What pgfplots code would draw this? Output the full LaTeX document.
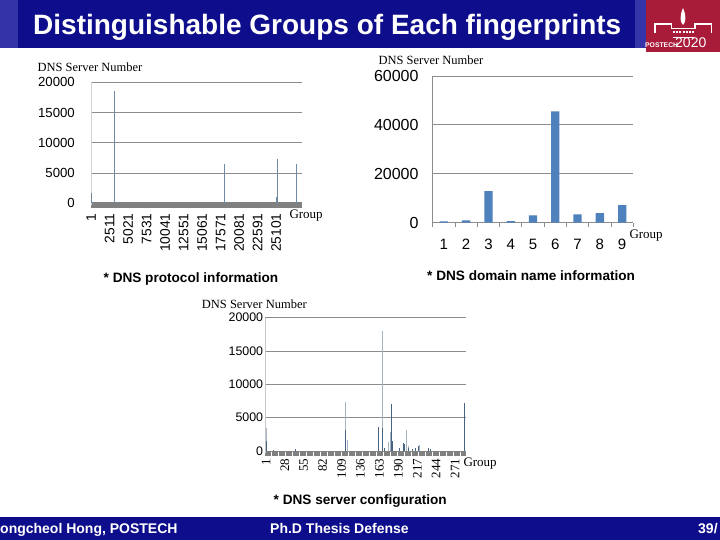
\documentclass[border=0pt]{standalone}
\usepackage{pgfplots}
\pgfplotsset{compat=1.18}
\usepackage{fontspec}
\setmainfont{Liberation Sans}
\newfontfamily\serif{Liberation Serif}
\definecolor{navy}{RGB}{14,14,140}
\definecolor{lightnavy}{RGB}{52,52,168}
\definecolor{logored}{RGB}{168,28,58}
\definecolor{barblue}{RGB}{79,129,189}
\definecolor{spike}{RGB}{112,136,160}
\definecolor{spikedark}{RGB}{70,100,130}
\definecolor{spikelight}{RGB}{165,180,195}
\definecolor{gridgray}{RGB}{140,140,140}
\definecolor{bandgray}{RGB}{128,128,128}
\newcommand\fs[1]{\fontsize{#1}{#1}\selectfont}
\pgfplotsset{
  slide/.style={
    scale only axis, anchor=south west,
    axis x line*=bottom, axis y line*=left,
    major tick length=0pt,
    ymajorgrids, grid style={gridgray, line width=0.8bp},
    scaled ticks=false,
    /pgf/number format/assume math mode=true,
    /pgf/number format/1000 sep={},
    clip=false,
  }
}
\begin{document}
\begin{tikzpicture}
\path[use as bounding box] (0,0) rectangle (720bp,540bp);
\clip (0,0) rectangle (720bp,540bp);
\fill[white] (0,0) rectangle (720bp,540bp);
% title bar
\fill[lightnavy] (0,491.7bp) rectangle (648bp,540bp);
\fill[navy] (18bp,491.7bp) rectangle (635bp,540bp);
\fill[logored] (646bp,488bp) rectangle (720bp,540bp);
\node[white, font=\bfseries\fs{28bp}, anchor=base west, inner sep=0pt] at (33bp,505bp) {Distinguishable Groups of Each fingerprints};
% logo
\fill[white] (683bp,532bp) .. controls (686.5bp,524bp) and (686bp,518bp) .. (683bp,515bp) .. controls (680bp,518bp) and (679.5bp,524bp) .. (683bp,532bp);
\draw[white, line width=1.1bp] (655bp,506.7bp) -- (655bp,516bp) -- (671.7bp,516bp) -- (671.7bp,511.7bp) -- (695bp,511.7bp) -- (695bp,516bp) -- (711.7bp,516bp) -- (711.7bp,506.7bp);
\draw[white, line width=1.1bp] (673bp,502.7bp) -- (694bp,502.7bp);
\draw[white, line width=1.1bp, dash pattern=on 2bp off 1.2bp] (673bp,508bp) -- (694bp,508bp);
\node[white, font=\bfseries\fs{6.8bp}, anchor=base west, inner sep=0pt] at (645bp,492.7bp) {POSTECH};
\node[white, font=\fs{14bp}, anchor=base west, inner sep=0pt] at (675bp,492.7bp) {2020};
% footer
\fill[navy] (0,0) rectangle (720bp,23.3bp);
\node[white, font=\bfseries\fs{14bp}, anchor=base west, inner sep=0pt] at (0bp,7bp) {ongcheol Hong, POSTECH};
\node[white, font=\bfseries\fs{14bp}, anchor=base west, inner sep=0pt] at (270bp,7bp) {Ph.D Thesis Defense};
\node[white, font=\bfseries\fs{14bp}, anchor=base west, inner sep=0pt] at (698bp,7bp) {39/};
% captions
\node[font=\bfseries\fs{13.6bp}, anchor=base west, inner sep=0pt] at (103.5bp,257.3bp) {* DNS protocol information};
\node[font=\bfseries\fs{13.6bp}, anchor=base west, inner sep=0pt] at (427bp,259bp) {* DNS domain name information};
\node[font=\bfseries\fs{13.6bp}, anchor=base west, inner sep=0pt] at (273.5bp,36bp) {* DNS server configuration};
% axis titles
\node[font=\serif\fs{12.5bp}, anchor=base west, inner sep=0pt] at (37.3bp,468.3bp) {DNS Server Number};
\node[font=\serif\fs{13bp}, anchor=base west, inner sep=0pt] at (289.3bp,321bp) {Group};
\node[font=\serif\fs{12.5bp}, anchor=base west, inner sep=0pt] at (378.3bp,475bp) {DNS Server Number};
\node[font=\serif\fs{13bp}, anchor=base west, inner sep=0pt] at (629.3bp,301bp) {Group};
\node[font=\serif\fs{12.5bp}, anchor=base west, inner sep=0pt] at (201.7bp,231.5bp) {DNS Server Number};
\node[font=\serif\fs{13bp}, anchor=base west, inner sep=0pt] at (463.3bp,73bp) {Group};

% ---------- chart 1: DNS protocol information ----------
\begin{axis}[slide,
  at={(91bp,335.3bp)}, width=210.7bp, height=122.4bp,
  xmin=0, xmax=28550, ymin=-231, ymax=20000,
  x axis line style={line width=6bp, color=bandgray},
  y axis line style={color=gray!35, line width=0.8bp},
  ytick={0,5000,10000,15000,20000},
  yticklabels={0,5000,10000,15000,20000},
  xtick={1,2511,5021,7531,10041,12551,15061,17571,20081,22591,25101},
  xticklabels={1,2511,5021,7531,10041,12551,15061,17571,20081,22591,25101},
  xticklabel style={rotate=90, anchor=east, inner sep=0pt, font=\fs{13.8bp}},
  yticklabel style={anchor=east, inner sep=0pt, font=\fs{13.2bp}},
  xticklabel shift=8.5bp, yticklabel shift=16bp,
]
\addplot[ycomb, no marks, color=spike, line width=1bp] coordinates {
  (95,1650) (3157,18560) (18062,6450) (25135,1100) (25244,7270) (27818,6450)
};
\end{axis}

% ---------- chart 2: DNS domain name information ----------
\begin{axis}[slide,
  at={(432.7bp,317.3bp)}, width=200.6bp, height=146.7bp,
  xmin=0.5, xmax=9.5, ymin=0, ymax=60000,
  axis line style={gridgray, line width=0.8bp},
  ytick={0,20000,40000,60000}, yticklabels={0,20000,40000,60000},
  xtick={1,2,3,4,5,6,7,8,9}, xticklabels={1,2,3,4,5,6,7,8,9},
  minor xtick={0.5,1.5,2.5,3.5,4.5,5.5,6.5,7.5,8.5,9.5},
  minor tick length=4bp, tick align=outside,
  minor tick style={gridgray, line width=0.8bp},
  xticklabel style={anchor=north, inner sep=0pt, font=\fs{15bp}},
  yticklabel style={anchor=east, inner sep=0pt, font=\fs{16bp}},
  xticklabel shift=16bp, yticklabel shift=14bp,
  ybar, bar width=8.3bp,
]
\addplot[fill=barblue, draw=none] coordinates {
  (1,500) (2,1000) (3,12950) (4,600) (5,3000) (6,45500) (7,3400) (8,3950) (9,7200)
};
\end{axis}

% ---------- chart 3: DNS server configuration ----------
\begin{axis}[slide,
  at={(265.3bp,86.6bp)}, width=200.4bp, height=135.7bp,
  xmin=0, xmax=286.3, ymin=-360, ymax=20000,
  x axis line style={line width=4.7bp, color=bandgray, dash pattern=on 6bp off 1bp},
  y axis line style={color=gray!45, line width=0.8bp},
  ytick={0,5000,10000,15000,20000},
  yticklabels={0,5000,10000,15000,20000},
  xtick={1,28,55,82,109,136,163,190,217,244,271},
  xticklabels={1,28,55,82,109,136,163,190,217,244,271},
  xticklabel style={rotate=90, anchor=east, inner sep=0pt, font=\serif\fs{13bp}},
  yticklabel style={anchor=east, inner sep=0pt, font=\fs{12.4bp}},
  xticklabel shift=5bp, yticklabel shift=2bp,
]
\addplot[ycomb, no marks, color=spikelight, line width=0.9bp] coordinates {
  (2,3400) (114,7400) (118,1650) (167,18000) (176,1400) (179,2900) (192,500) (202,3200) (204,800) (220,900)
};
\addplot[ycomb, no marks, color=spikedark, line width=0.9bp] coordinates {
  (1,1500) (11,150) (43,250) (115,3100) (161,3650) (168,3500) (170,400) (180,7000) (181,1500) (191,400) (198,1150) (199,1000) (205,400) (210,300) (214,500) (219,700) (233,400) (236,350) (285,7250)
};
\end{axis}
\end{tikzpicture}
\end{document}
